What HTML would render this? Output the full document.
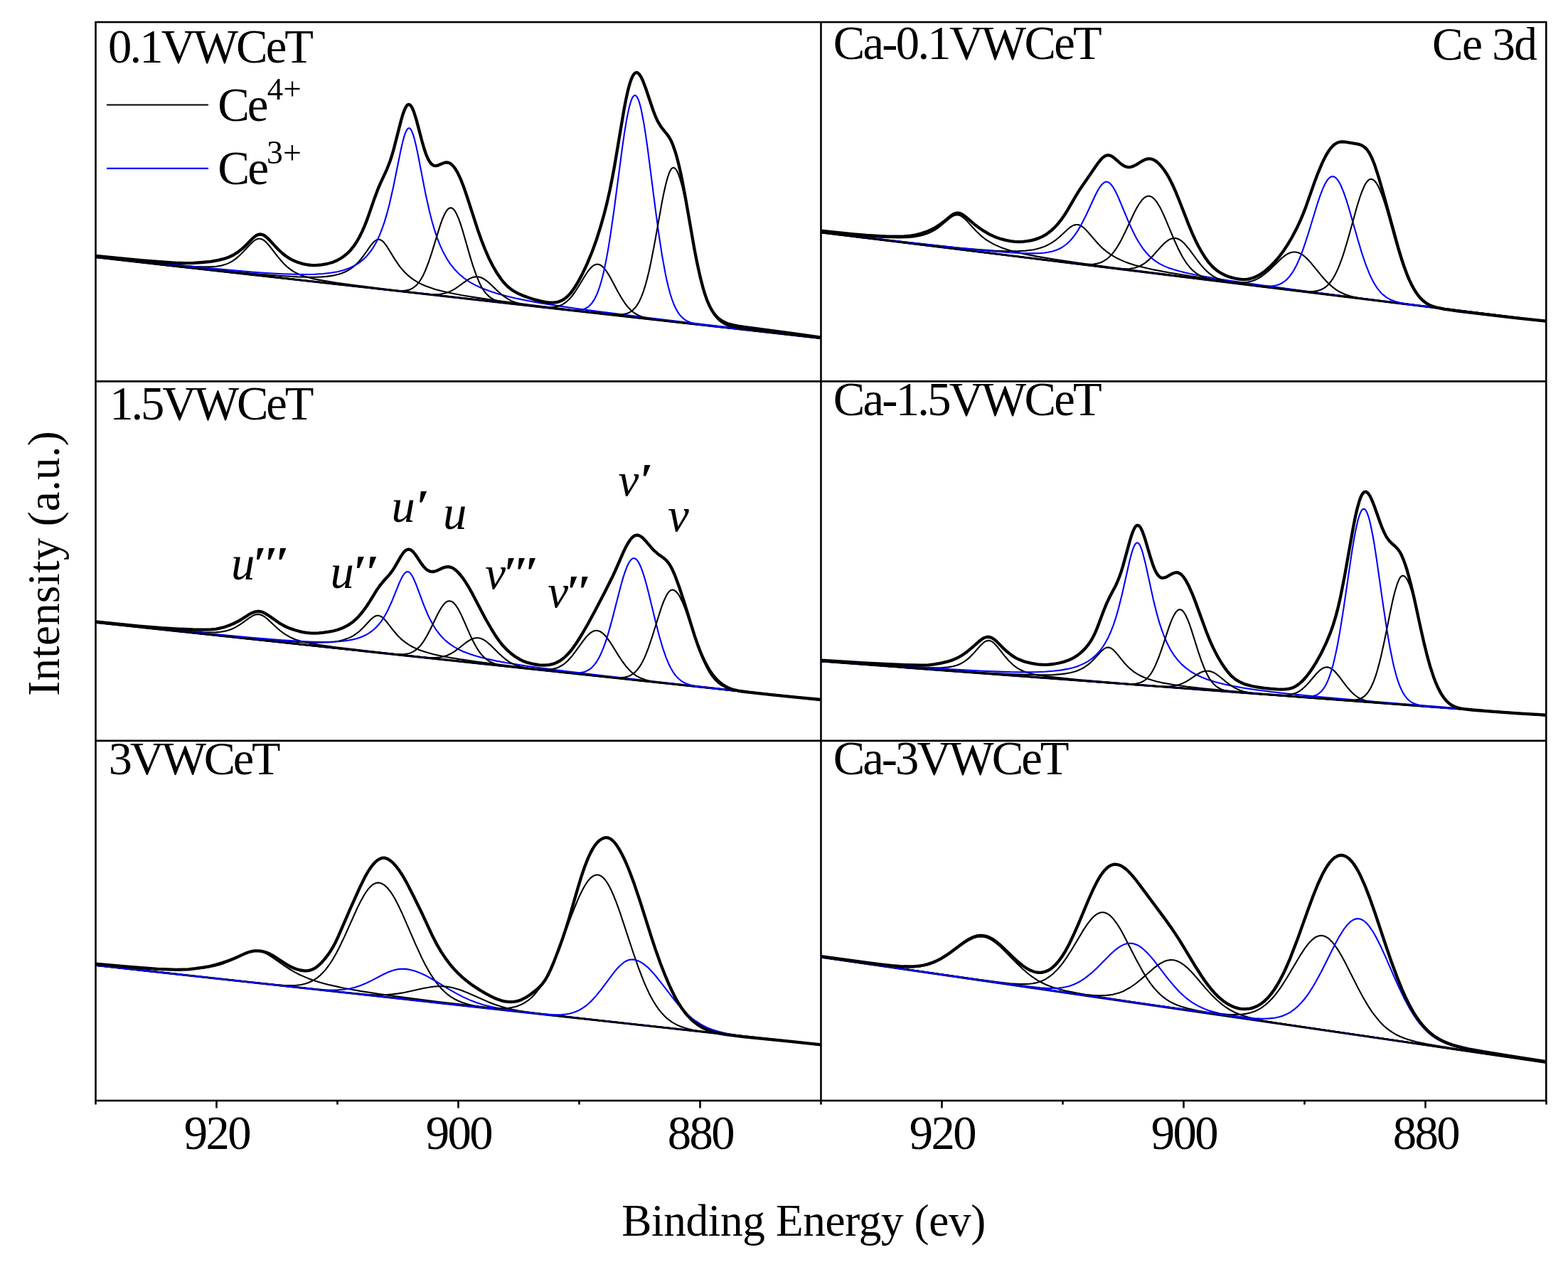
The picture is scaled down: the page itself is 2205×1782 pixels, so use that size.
<!DOCTYPE html>
<html><head><meta charset="utf-8"><title>Ce 3d XPS</title><style>
    html,body{margin:0;padding:0;background:#fff;}
    body{width:2205px;height:1782px;overflow:hidden;}
    svg{display:block;}
    .bl{fill:none;stroke:#000;stroke-width:3;}
    .ck{fill:none;stroke:#000;stroke-width:2.1;stroke-linejoin:round;}
    .cb{fill:none;stroke:#0000ff;stroke-width:2.1;stroke-linejoin:round;}
    .env{fill:none;stroke:#000;stroke-width:4.3;stroke-linejoin:round;stroke-linecap:round;}
    .frame{fill:none;stroke:#000;stroke-width:2.6;}
    .t{font-family:'Liberation Serif', 'Times New Roman', serif;font-size:66.6px;fill:#000;}
    </style></head><body>
<svg xmlns="http://www.w3.org/2000/svg" width="2205" height="1782" viewBox="0 0 2205 1782">
<defs>
    <clipPath id="c1"><rect x="134.5" y="31.1" width="1020.0" height="1516.9"/></clipPath>
    <clipPath id="c2"><rect x="1154.5" y="31.1" width="1019.8000000000002" height="1516.9"/></clipPath>
    </defs>
<g clip-path="url(#c1)">
<path class="bl" d="M134.5 361.8L1154.5 475.8"/>
<path class="ck" d="M134.5 361.4L209.5 369.2L256.5 373.5L273 374.7L286 375.2L296 375.2L304 374.7L310.5 373.7L316.5 372.1L322 369.9L327 367.1L332 363.6L337.5 358.8L342 354.3L351.5 344L356 339.7L358.5 337.9L361 336.5L363.5 335.8L365.5 335.8L367.5 336.2L370 337.3L372 338.7L374.5 341L379 346L390.5 360.9L396.5 368L400 371.7L403.5 375L407 377.9L410.5 380.4L414.5 382.9L418.5 385L423 386.9L427.5 388.5L432.5 390.1L438.5 391.6L452.5 394.4L473.5 397.7L501.5 401.5L539 406.2L590.5 412.3L762.5 431.8L1154.5 475.8"/>
<path class="ck" d="M134.5 361.4L282.5 377.4L330 382.3L366.5 385.7L395.5 388L418.5 389.4L437 389.8L445 389.7L452.5 389.4L459 388.9L465 388.1L470.5 387.1L475.5 385.9L480 384.5L484.5 382.7L488.5 380.8L492.5 378.4L496 375.9L499 373.4L502.5 370.1L505.5 366.9L511 360L521.5 345.2L525 341L527 339.1L529 337.8L531 337L533 336.8L534.5 337.1L536.5 338.1L538.5 339.6L540.5 341.8L544.5 347.2L555.5 365.1L562 374.6L565.5 378.9L569.5 383.3L573.5 387.1L577.5 390.4L582 393.7L587 396.7L592.5 399.6L598.5 402.2L605 404.6L612 406.9L620 409.1L629 411.2L649.5 415.3L675 419.4L708 424L751.5 429.6L808.5 436.4L886.5 445.4L1154.5 475.6"/>
<path class="cb" d="M134.5 360.8L232.5 371.1L304 378.1L357 382.7L378.5 384.2L397.5 385.2L414.5 385.8L429.5 386L442.5 385.7L454.5 385L465 383.8L474.5 382.2L483 380L491 377.2L498 373.9L504.5 370L510 365.7L515.5 360.4L520.5 354.4L525 347.8L529.5 339.9L533.5 331.4L537 322.7L540.5 312.6L544 300.9L547.5 287.7L553 263.5L563.5 211.7L565.5 202.8L567.5 194.9L569.5 188.4L571.5 183.7L572.5 182L573.5 180.9L574.5 180.3L575.5 180.2L577 181.2L578 182.5L579 184.3L581 189.4L583 196.3L585 204.5L587.5 216.3L598.5 272.9L604 297.6L607.5 311.3L611 323.3L615 335.2L619 345.4L623.5 355.1L628.5 364.1L634 372.3L639.5 379.1L645.5 385.3L652.5 391.1L660 396.3L668.5 401.1L677.5 405.3L688 409.3L699.5 413L712.5 416.5L727 419.9L743.5 423.2L762.5 426.6L784.5 430.1L809 433.7L837.5 437.6L910 446.8L1010.5 458.7L1154.5 475.2"/>
<path class="ck" d="M134.5 361.8L543 407.4L553.5 408.5L560.5 408.9L566 409L570.5 408.6L574 407.9L577.5 406.7L580.5 405.1L583.5 403L586.5 400.2L589 397.2L591.5 393.5L594 389.3L596 385.3L598.5 379.7L603 368L607.5 354.3L618 320.1L620.5 312.7L623 306.2L626 299.7L628.5 295.8L630 294.1L631.5 292.9L633 292.4L634 292.3L635 292.5L636.5 293.2L638 294.6L639.5 296.5L642 300.8L645 307.6L647.5 314.6L650.5 324L661 360.6L665.5 375.2L670.5 389.2L675 399.5L677.5 404.2L680 408.2L682.5 411.6L685.5 414.9L688.5 417.6L691.5 419.7L695 421.6L698.5 423L703.5 424.5L709 425.6L726.5 427.9L1154.5 475.8"/>
<path class="ck" d="M134.5 361.8L576.5 411.2L595 413.2L605.5 414L613 414.1L619 413.7L624.5 412.8L630 411.1L635 408.9L640 406.1L644.5 403L655 395.3L660.5 391.9L663.5 390.6L666.5 389.6L669.5 389.2L672 389.3L674.5 389.7L677.5 390.8L680.5 392.4L683.5 394.4L689 398.9L700 409.5L704.5 413.5L709.5 417.4L714 420.4L719 423.1L724.5 425.3L730.5 427.1L738 428.7L748.5 430.3L766.5 432.4L1154.5 475.8"/>
<path class="ck" d="M134.5 361.8L740.5 429.5L760 431.5L771 432.2L775 432.1L779 431.8L782.5 431.2L786 430.3L789 429.1L792 427.6L795 425.6L797.5 423.6L800 421.3L802.5 418.6L805 415.5L808 411.5L813 403.8L823.5 386.5L826.5 382L829 378.8L832 375.5L835 373.2L836.5 372.4L838 371.9L839.5 371.7L841 371.7L842.5 372L844 372.7L847 374.7L850 377.8L853 381.7L855.5 385.6L858.5 390.7L869 410.4L873.5 418.3L878 425.3L882.5 431.3L887 436.1L892 440.2L894.5 441.8L897.5 443.4L903.5 445.8L908.5 447.3L914 448.4L930 450.7L1154.5 475.8"/>
<path class="cb" d="M134.5 361.8L788.5 434.9L800.5 436L808.5 436.4L815 436.1L820 435.1L822.5 434.3L825 433L827 431.7L829 430L832.5 426.2L836 420.9L839 414.8L842 407.2L845 397.8L848 386.5L850.5 375.4L853 362.9L855.5 348.9L858.5 330.2L863.5 295.3L875 208.3L878 187.7L881 169.4L884 154.4L885.5 148.3L887 143.2L888.5 139.2L890 136.3L891.5 134.6L892.5 134.1L893 134.1L893.5 134.2L894.5 134.8L896 136.7L897.5 139.7L899 143.9L900.5 149.2L902 155.5L905.5 173.9L908 189.7L911 210.9L922 296.6L926.5 329.7L931 359.1L935.5 383.9L937.5 393.4L940 404L942.5 413.2L945 421L947.5 427.7L950 433.2L952.5 437.8L955.5 442.3L958 445.3L960.5 447.6L963 449.6L966 451.4L969.5 453L973 454.2L977 455.2L982 456.2L990 457.3L1002.5 458.8L1154.5 475.8"/>
<path class="ck" d="M134.5 361.8L629.5 417L795.5 435.4L837 439.7L858.5 441.7L869.5 442.3L874 442.2L877.5 441.8L882 440.7L886 439L889.5 436.6L893 433.1L896 429.1L899 423.9L902 417.4L905 409.3L907.5 401.4L910 392.3L912.5 382L915.5 368.2L920 345.1L931 283.9L933.5 271.4L936 260.2L939 249.1L941.5 242.1L943 239.2L944.5 237.1L946 236L947 235.8L948.5 236.3L950 237.5L951.5 239.6L953 242.5L954.5 246.1L956 250.4L959.5 263L962.5 276L965.5 290.6L976 346.4L980.5 369.1L985 389.4L989.5 406.8L994 421L996 426.3L998.5 432.2L1000.5 436.3L1003 440.7L1005.5 444.5L1008 447.6L1010.5 450.2L1013 452.4L1016 454.5L1019 456.2L1022.5 457.7L1026 458.9L1034.5 460.9L1045.5 462.7L1064.5 465.1L1154.5 475.6"/>
<path class="env" d="M134.5 360L170 363.5L201 366.3L228 368.5L248.5 369.8L259.5 370.1L272 369.8L284.5 369L296.5 367.8L306 366.2L314.5 364.2L321.5 361.8L328 358.7L334.5 354.6L340.5 349.9L345.5 345.3L354.5 336L358 332.9L360 331.5L362 330.4L364 329.8L366 329.5L368 329.8L370.5 330.6L372.5 331.8L375 333.7L379 337.6L387.5 346.9L392 351.5L396.5 355.7L401.5 359.7L406 362.8L410 365.1L414.5 367.3L419 369L426 371.1L433 372.5L439 373.2L444.5 373.2L452.5 372.4L461 370.8L467.5 369L473.5 366.6L479 363.5L484.5 359.7L489 355.9L493.5 351.2L497.5 346.2L501.5 340.2L505.5 333.2L509.5 325.1L513 317.1L516.5 308.1L527 277.9L531 267.2L535 257.7L544 238.3L548.5 226.7L551 219L553.5 210.5L563.5 171.4L566 162.5L568 156.6L570 151.8L571.5 149.3L572.5 148L573.5 147.3L575 146.9L576.5 147.5L577.5 148.4L578.5 149.8L580 152.5L582 157.4L585.5 168.4L593.5 198.8L597 210.8L599 216.6L601 221.5L602.5 224.6L604.5 227.9L606 229.9L608 231.7L610 232.8L612 233.2L613.5 233.1L615.5 232.7L622.5 229.7L625.5 228.7L628.5 228.5L630 228.7L631.5 229.1L633 229.8L634.5 230.8L637.5 233.7L640.5 237.7L643.5 242.9L648 252.4L652.5 264L657 277.2L671.5 322.2L677 337.7L682 350.5L687.5 363.1L693 374L699 384.3L705 393L708.5 397.3L712 401.1L715.5 404.3L719 407.1L723 409.7L727 412L731.5 414.1L737 416.4L745 419.2L753 421.7L760.5 423.6L767 424.9L773 425.6L778 425.7L782.5 425.2L786.5 424.1L790 422.6L793 420.9L796 418.6L799 415.9L802 412.6L805 408.8L808 404.5L811 399.7L814.5 393.6L818 387.1L825.5 371.3L832.5 354.5L838.5 338L844 320.7L849 303.2L853.5 285.6L857.5 267.9L861 250.5L864.5 231.5L877.5 154.2L880.5 138.6L883 127.4L885 119.8L886.5 114.9L888 110.8L889.5 107.4L891 104.9L892.5 103.2L894 102.2L895.5 102.1L896.5 102.4L897.5 103L899.5 105.1L901.5 108.3L904 113.5L908 124L918.5 155.3L921.5 163.1L924 168.7L926.5 173.4L929 177.4L931.5 180.8L938.5 189.5L942 194.8L944 198.6L946 203.2L949.5 213.2L952 221.7L954.5 231.5L957 242.4L959.5 254.5L964 278.7L976.5 350.4L980.5 370.8L984.5 388.9L989 406.2L991 412.8L993.5 420.1L995.5 425.2L998 430.7L1000.5 435.4L1003 439.4L1005.5 442.7L1008.5 446L1011.5 448.7L1014.5 450.8L1018 452.8L1021.5 454.4L1025.5 455.9L1030.5 457.2L1038 458.7L1048 460.2L1112 468.7L1154.5 474.7"/>
<path class="bl" d="M134.5 875.5L1154.5 984.4"/>
<path class="ck" d="M134.5 875.2L209.5 882.8L256 887.2L272.5 888.4L285.5 889.2L295.5 889.5L303.5 889.4L310 888.8L315.5 887.9L321 886.5L326 884.7L331 882.4L336 879.4L340.5 876.4L350.5 869.1L355 866.3L357.5 865.1L359.5 864.4L362 864.1L364 864.1L366 864.5L368 865.2L370 866.2L372.5 867.8L377 871.5L388.5 882.3L394.5 887.5L401 892.2L408 896.2L415.5 899.5L424.5 902.3L435.5 904.7L449.5 907.1L470 910L498 913.4L587 923.5L759 942.1L1154.5 984.4"/>
<path class="ck" d="M134.5 875.2L284 890.8L331.5 895.5L368 899L396.5 901.3L419.5 902.9L438 903.7L453 903.7L465 903.1L470.5 902.5L475.5 901.7L480 900.7L484.5 899.5L488.5 898.1L492.5 896.4L496 894.6L499 892.7L502.5 890.2L505.5 887.8L511 882.5L521 871.8L524.5 868.6L526.5 867.3L528.5 866.3L530.5 865.8L532 865.8L533.5 866.1L535.5 866.9L537.5 868.2L539.5 869.9L543.5 874.3L554 887.8L560 894.7L563.5 898.1L567 901.2L571 904.2L575 906.9L579.5 909.5L584.5 911.9L590 914.2L596 916.3L602.5 918.3L609.5 920.2L626 923.7L646 927.1L671.5 930.8L704.5 935L748 940.1L883.5 955.1L1154.5 984.3"/>
<path class="cb" d="M134.5 875L232 885.1L303 892.1L356 897.1L396.5 900.4L428.5 902.3L441.5 902.8L453.5 903L464 902.9L473.5 902.5L482 901.8L489.5 900.8L496.5 899.4L503 897.7L508.5 895.7L514 893.3L519 890.4L523.5 887.2L528 883.2L532 879L535.5 874.6L539 869.6L542.5 863.7L545.5 858L551.5 844.7L561.5 819.9L565.5 811.4L567.5 808.2L569.5 805.8L571.5 804.4L572.5 804.1L573.5 804.1L575 804.6L577 806.3L579 808.9L581 812.5L585 821.7L596 851.2L602 865.5L605.5 872.6L609 879L613 885.3L617 890.7L621.5 896L626.5 900.9L632 905.4L637.5 909.1L644 912.8L651 916.2L658.5 919.1L667 922L676 924.6L686.5 927.1L698 929.6L711 932L742.5 937L783.5 942.6L837 949.1L909.5 957.4L1154.5 984.1"/>
<path class="ck" d="M134.5 875.5L538.5 918.6L556.5 920.2L562 920.4L567 920.3L570.5 919.9L574 919.3L577 918.4L580 917.1L583 915.4L585.5 913.6L588.5 910.9L591 908.3L595.5 902.3L600.5 894.1L605 885.5L615.5 863.8L618.5 858.3L621 854.1L624 850.1L627 847.1L628.5 846.1L630 845.5L632.5 845.2L635 845.9L636.5 846.7L638 848L641 851.4L644 856L646.5 860.5L649.5 866.6L660.5 891.6L665 901.2L670 910.4L672.5 914.4L675 918L677.5 921.1L680 923.8L682.5 926.1L685.5 928.4L688.5 930.3L691.5 931.8L695 933.3L699 934.5L704 935.6L709.5 936.6L728 938.9L1154.5 984.4"/>
<path class="ck" d="M134.5 875.5L574 922.4L593 924.3L604 925.1L611.5 925.1L618 924.6L623.5 923.5L629 921.7L634 919.3L639 916.3L644 912.7L655 904L660.5 900.4L663.5 898.9L666.5 897.8L669.5 897.3L672.5 897.3L675.5 897.8L678.5 899L681.5 900.6L684.5 902.7L690.5 907.9L701.5 918.9L706 923.1L711 927.3L716 930.8L721.5 933.8L727 936.1L733 938L740.5 939.6L751.5 941.2L770 943.3L1154.5 984.4"/>
<path class="ck" d="M134.5 875.5L731 939.2L752 941.3L764 941.9L772.5 941.7L776.5 941.1L780 940.3L783.5 939.2L786.5 937.9L789.5 936.3L792.5 934.3L795.5 932L798 929.7L803.5 923.8L809 916.7L821 900.1L824 896.4L827 893.1L830.5 890L833.5 888.2L835.5 887.3L837 887L840 886.9L843 887.7L844.5 888.5L846.5 889.8L849.5 892.4L853 896.3L856 900.3L859 904.7L870 922.4L875 930L880 936.7L885 942.4L890 947L895 950.6L900.5 953.5L907 956L912.5 957.5L918.5 958.7L935.5 961L1154.5 984.4"/>
<path class="cb" d="M134.5 875.5L782.5 944.7L795 945.9L803.5 946.5L810 946.6L815.5 946.3L820.5 945.3L824.5 943.9L828.5 941.8L832 939.1L835.5 935.4L838.5 931.5L841.5 926.6L844.5 920.7L847.5 913.9L850 907.3L852.5 900.1L855.5 890.4L861 870.6L873 824L876 813.4L879 804.1L882.5 795.2L884 792.2L885.5 789.7L887.5 787.2L889 785.9L890.5 785.3L892 785.2L893.5 785.8L895 786.9L896.5 788.6L898.5 791.7L901.5 798.2L905 808.1L908 818.3L911 829.6L922 874.8L927 894.2L932 911.3L936.5 924.4L941 935.1L943.5 940L946 944.3L948.5 948L951 951.2L954 954.3L957 956.8L959.5 958.6L962 960L965 961.4L968 962.5L975 964.4L984.5 966L1006 968.5L1154.5 984.4"/>
<path class="ck" d="M134.5 875.5L842 951L862.5 952.9L868.5 953.2L873.5 953.1L878.5 952.6L882.5 951.6L886 950.2L889.5 948.2L892.5 945.9L895.5 942.8L898.5 939L901.5 934.4L904 929.8L906.5 924.6L909 918.7L912 910.8L917 896L928.5 859.2L931.5 850.5L934 844.2L937 837.8L938.5 835.2L940 833.1L941.5 831.5L943 830.3L944.5 829.7L946 829.6L947.5 830L949.5 831.1L951 832.4L953 834.7L954.5 836.8L956.5 840.3L960 847.6L963 855L966.5 864.6L978 899.3L983 913.6L988 926.5L992.5 936.4L997 944.8L1001.5 951.6L1004 954.7L1006.5 957.5L1009 959.8L1011.5 961.9L1014 963.6L1017 965.4L1023 968L1030 970L1038.5 971.6L1059 974.2L1154.5 984.4"/>
<path class="env" d="M134.5 874.4L195.5 880.6L227 883.2L251 884.6L271.5 885.5L285.5 885.7L296.5 885.4L303 884.8L309 883.7L315.5 882L322.5 879.5L328.5 877L334 874.3L339 871.3L349.5 864.7L354 862.2L356.5 861.2L359 860.4L361.5 860L363.5 859.9L366 860.1L368.5 860.8L371 861.8L373.5 863.1L378.5 866.3L392 875.8L396.5 878.5L400.5 880.7L405 882.7L409.5 884.4L415 886.2L420.5 887.8L426 889.1L431 889.9L436 890.4L441.5 890.6L448 890.4L455 889.7L462 888.7L468.5 887.5L474 886L479 884.3L483.5 882.4L488 880.1L492.5 877.3L496.5 874.4L500.5 870.9L504 867.4L509.5 861L515 853.5L520 845.8L529.5 830.4L534 823.9L538.5 818.3L547 808.9L551.5 803.1L555.5 796.9L563.5 782.9L566.5 778.4L569 775.4L571 773.8L573 772.8L575 772.6L576.5 773L578 773.7L579.5 774.7L581.5 776.7L585 781.2L592 791.9L595.5 796.6L597.5 798.8L599.5 800.7L601 801.8L603 802.9L605 803.6L607 804L609 804L611 803.7L614.5 802.6L621.5 799.3L624.5 798.1L627.5 797.3L630.5 797.1L634 797.8L637 799.1L640 801.2L643.5 804.3L647 808.2L651 813.3L654.5 818.4L658.5 824.8L664.5 835.4L676.5 858.6L683 870.7L690.5 883.8L697 894.3L702 901.5L707 907.8L712.5 913.6L718.5 919L724.5 923.5L730.5 927.2L736.5 930.1L742.5 932.2L750 934L758.5 935.3L765.5 935.6L772 935.1L777.5 933.9L782.5 932L787 929.7L791.5 926.5L796 922.5L800.5 917.8L805 912.3L810 905.3L817.5 893.5L826.5 878L836 860.5L850.5 832.8L861 811.8L865.5 802L876.5 776.8L879.5 770.6L882.5 765L886 759.5L888 757L889.5 755.5L891.5 754L893 753.2L894.5 752.8L896.5 752.7L898.5 753.2L900.5 754.1L902.5 755.5L904.5 757.2L908 760.9L917 771.4L920.5 775L925 778.9L933.5 785L937 788.2L940.5 792.4L943.5 797.2L946 802.2L949 809.1L955 825.2L962 846.5L977 894.9L981.5 907.9L985.5 918.2L988.5 925L991.5 931.3L995 937.8L998 942.9L1001 947.3L1004 951.2L1007.5 955.2L1011 958.6L1014 961.1L1017.5 963.7L1020.5 965.5L1024 967.3L1027.5 968.7L1031.5 970L1040.5 972L1053 973.7L1084.5 977.2L1119 980.7L1154.5 984"/>
<path class="bl" d="M134.5 1357.6L1154.5 1469.5"/>
<path class="ck" d="M134.5 1355.7L185.5 1360.1L206 1361.6L224 1362.6L239.5 1363.2L253.5 1363.4L266 1363.2L277 1362.5L285.5 1361.7L293.5 1360.5L301 1359L308 1357.2L315 1354.9L322.5 1351.9L329 1349L342.5 1342.4L349 1339.6L353 1338.4L356.5 1337.7L360 1337.4L363 1337.6L366 1338.1L369.5 1339.1L372.5 1340.3L376 1342.1L382.5 1346.1L400 1358.4L409.5 1364.5L415 1367.6L421 1370.7L427 1373.4L433 1375.9L440 1378.5L447.5 1380.9L455.5 1383.2L464 1385.4L483.5 1389.7L506.5 1393.9L535 1398.3L570 1403.1L614.5 1408.7L671.5 1415.4L841 1434.7L1154.5 1469.3"/>
<path class="ck" d="M134.5 1357.6L352.5 1381.5L386 1384.9L400.5 1386L412 1386.1L417 1385.8L421.5 1385.3L425.5 1384.6L429.5 1383.6L434 1382L438.5 1380L442.5 1377.7L446.5 1374.9L450.5 1371.6L454 1368.1L458 1363.6L461.5 1359L465 1354L469 1347.5L473 1340.5L477 1332.8L484.5 1317.1L502.5 1277L507.5 1267L512 1259L515 1254.3L517.5 1250.9L520.5 1247.5L523 1245.2L525.5 1243.4L528 1242.2L530.5 1241.6L533 1241.6L535.5 1242.2L538 1243.3L540.5 1244.9L543.5 1247.5L546 1250.2L549 1254L552 1258.5L555 1263.5L560 1273L565.5 1284.6L584.5 1328.4L593 1346.9L597.5 1355.9L602 1364.1L606.5 1371.7L610.5 1377.7L615 1383.8L619.5 1389.2L624 1393.8L628.5 1397.8L633.5 1401.6L638.5 1404.7L644 1407.5L650 1410L659 1412.8L669.5 1415.2L682.5 1417.3L700 1419.5L1154.5 1469.5"/>
<path class="cb" d="M134.5 1357.6L422 1389.1L448.5 1391.6L458 1392.2L466 1392.5L475 1392.3L483.5 1391.7L491.5 1390.5L499 1388.7L506.5 1386.2L514.5 1383L522 1379.4L540 1370L545.5 1367.5L550 1365.7L555.5 1364L560.5 1363.1L565.5 1362.7L570.5 1362.9L576.5 1363.9L583 1365.6L589.5 1367.9L596.5 1371L602 1373.9L608.5 1377.5L631 1391.2L641 1396.9L651 1402.1L660.5 1406.4L670.5 1410.3L680.5 1413.4L691 1416.1L703 1418.5L713.5 1420.3L725.5 1422L759.5 1426.1L1154.5 1469.5"/>
<path class="ck" d="M134.5 1357.6L469.5 1394.3L498 1397.2L516.5 1398.7L526.5 1399.2L535.5 1399.3L544 1399L552 1398.4L560 1397.4L568.5 1396L595.5 1390L605.5 1388.2L611 1387.5L616.5 1387.2L622 1387.2L627 1387.6L632 1388.3L637.5 1389.4L643 1390.9L648.5 1392.8L659 1397L686 1408.9L694.5 1412.2L702.5 1414.9L711 1417.4L719.5 1419.5L729 1421.5L739.5 1423.2L758.5 1425.9L787.5 1429.2L1154.5 1469.5"/>
<path class="ck" d="M134.5 1357.6L667 1415.9L686 1417.7L699.5 1418.4L710.5 1418.2L715 1417.8L719.5 1417.1L725.5 1415.7L731.5 1413.6L737 1410.8L742.5 1407.2L747.5 1403L752 1398.4L757 1392.2L761.5 1385.7L766 1378.3L770.5 1369.9L775 1360.7L779.5 1350.5L788 1329.4L802.5 1290.7L808 1276.5L813.5 1263.3L818.5 1252.7L821.5 1247.2L824.5 1242.3L827.5 1238.2L830 1235.4L833 1232.9L835.5 1231.4L838.5 1230.5L841 1230.5L843.5 1231.2L846 1232.6L848.5 1234.7L851 1237.5L853.5 1241L856.5 1246.1L859 1250.9L862 1257.5L866.5 1268.6L872 1283.8L890.5 1340L898 1361.5L905.5 1380.9L909 1388.9L912.5 1396.4L915.5 1402.2L919 1408.5L922.5 1414.1L926 1419.1L929.5 1423.6L933.5 1428L937 1431.4L941 1434.7L945 1437.6L949 1439.9L953.5 1442.2L958 1444L963 1445.7L968.5 1447.2L975 1448.7L982 1449.9L995 1451.8L1013.5 1454L1154.5 1469.5"/>
<path class="cb" d="M134.5 1357.6L738 1423.8L767 1426.6L776 1427.1L784 1427.3L790 1427.1L795.5 1426.5L800.5 1425.7L805 1424.5L809.5 1423L814 1421L818.5 1418.4L822.5 1415.7L826 1413L830 1409.4L834 1405.3L838 1400.9L845.5 1391.6L862.5 1368.8L867 1363.3L871.5 1358.5L876.5 1354.2L879 1352.5L881.5 1351.2L884 1350.3L886 1349.8L888.5 1349.5L890.5 1349.6L893 1350L895.5 1350.7L898 1351.7L900.5 1352.9L905.5 1356.1L911 1360.6L916.5 1366.2L922 1372.5L928.5 1380.6L948.5 1406.6L955.5 1415L962 1422L969.5 1429.1L973.5 1432.5L977.5 1435.5L985.5 1440.7L993.5 1444.9L1002 1448.3L1011 1451.1L1021.5 1453.5L1034 1455.7L1046.5 1457.4L1064 1459.5L1154.5 1469.5"/>
<path class="env" d="M134.5 1355.7L182.5 1360L221.5 1362.8L235.5 1363.4L248 1363.8L257 1363.7L265 1363.3L275 1362.2L286 1360.6L295 1359L303.5 1356.9L313 1354.1L322.5 1350.8L330 1347.7L343.5 1341.6L349.5 1339.3L353 1338.3L356 1337.7L359 1337.4L362.5 1337.3L366.5 1337.7L371 1338.6L375 1339.8L379 1341.5L383 1343.6L387 1346L400 1354.5L405 1357.6L410.5 1360.5L416 1362.8L422 1364.5L428 1365.3L431 1365.3L433.5 1365.1L436 1364.6L438.5 1363.8L442 1362.2L445.5 1359.9L449 1356.9L453 1352.9L457 1348.3L461 1343.2L464.5 1338.1L468 1332.4L472 1324.9L476 1316.4L491.5 1280.5L506.5 1247.1L513 1233.9L516 1228.5L519 1223.5L522 1219.2L524.5 1216L527.5 1212.7L530 1210.5L532.5 1208.8L535.5 1207.3L538 1206.7L540.5 1206.7L543 1207.2L546 1208.5L548.5 1210.1L551.5 1212.6L554.5 1215.6L558 1219.7L561.5 1224.4L565 1229.7L568.5 1235.5L572 1241.8L581 1259.3L594 1285.8L608 1316.1L614.5 1328.7L620.5 1338.9L626.5 1347.9L633 1356.5L639.5 1364.1L644.5 1369.2L650 1374.3L656 1379.4L662 1384L668 1388.1L675 1392.6L683.5 1397.6L690.5 1401.4L695.5 1403.8L700.5 1405.8L705 1407.3L709.5 1408.3L714 1408.9L718.5 1409.2L723 1408.9L727 1408.1L730 1407.3L733 1406.2L739 1403.2L745.5 1399L753 1393.3L758.5 1388.4L762.5 1384.1L766 1379.3L769.5 1373.5L774 1364.4L779 1352.6L785 1337L791.5 1318.9L796 1305.4L800 1292.6L812.5 1249.4L817.5 1232.9L822.5 1218.2L827 1206.9L830.5 1199.4L833.5 1193.9L836.5 1189.2L840 1184.9L843.5 1181.7L847 1179.5L850.5 1178.2L853.5 1178.1L856 1178.6L859 1180.2L862 1182.6L865 1185.9L868 1190L871.5 1195.7L874.5 1201.2L878 1208.3L881.5 1216.2L885 1224.7L892 1243.6L900.5 1268.9L915.5 1316.3L921.5 1334.6L929 1355.7L936.5 1374.7L941 1385.2L945 1393.8L949.5 1402.7L953.5 1409.8L958 1416.9L962.5 1423.1L967 1428.6L971.5 1433.3L975.5 1436.9L980 1440.4L984.5 1443.4L989.5 1446.2L994.5 1448.5L1000 1450.5L1005.5 1452.2L1011.5 1453.5L1023.5 1455.4L1045 1458.1L1112.5 1464.9L1154.5 1469.3"/>
</g><g clip-path="url(#c2)">
<path class="bl" d="M1154.5 326.9L2174.3 452"/>
<path class="ck" d="M1154.5 325.7L1204.5 330.9L1223.5 332.5L1239.5 333.6L1253 334.3L1265 334.4L1275.5 334.1L1284.5 333.4L1291.5 332.3L1298 330.8L1304 328.8L1309.5 326.4L1315 323.4L1320 319.9L1324.5 316.3L1334 308.1L1338 305.1L1340.5 303.7L1342.5 302.9L1345 302.4L1347 302.4L1349 302.8L1351 303.6L1353 304.8L1355 306.3L1360 311.1L1372.5 324.8L1378.5 330.6L1382.5 334L1387 337.3L1391.5 340.2L1396 342.7L1401.5 345.4L1407.5 347.9L1414 350.2L1421 352.4L1429 354.5L1437.5 356.6L1458 360.6L1483 364.8L1515 369.5L1557 375.2L1613.5 382.6L1794 405.1L2174.3 451.9"/>
<path class="ck" d="M1154.5 326.4L1276.5 340.8L1317.5 345.4L1350 348.7L1376.5 351.1L1398 352.6L1415.5 353.3L1430.5 353.3L1442.5 352.6L1453 351.2L1457.5 350.3L1462 349.1L1466.5 347.6L1470.5 346L1477.5 342.4L1481 340.2L1484.5 337.7L1490.5 332.7L1501.5 322.5L1506 318.9L1508.5 317.4L1511 316.4L1513.5 316L1515.5 316L1517.5 316.4L1520 317.5L1522 318.8L1524.5 320.8L1529.5 325.9L1542.5 341L1548.5 347.2L1552.5 350.9L1556.5 354.1L1561 357.4L1565.5 360.2L1571 363.3L1576.5 365.9L1582.5 368.4L1589 370.7L1596 372.9L1604 375.1L1622.5 379.4L1644.5 383.5L1672.5 388L1708.5 393.2L1755 399.5L1897.5 417.6L2174.3 451.9"/>
<path class="cb" d="M1154.5 326.4L1241 336.7L1305 344.1L1353.5 349.3L1390.5 352.9L1420.5 355.3L1443.5 356.4L1453 356.4L1461 356.2L1468 355.7L1474 354.8L1479 353.8L1484 352.3L1488.5 350.5L1493 348.2L1497 345.5L1500.5 342.7L1504.5 338.9L1508 335L1511.5 330.4L1514.5 326.1L1518 320.4L1521.5 314.1L1527.5 302.2L1540 275.2L1543 269.3L1545.5 265L1548.5 260.7L1551 258L1552.5 256.9L1554 256.1L1555.5 255.8L1556.5 255.8L1557.5 256L1559 256.6L1560.5 257.6L1562 259L1564.5 262.1L1567.5 267L1570 271.9L1573 278.4L1586 309.6L1593 325.1L1597 332.9L1600.5 339.2L1604 344.8L1608 350.5L1612 355.5L1616.5 360.3L1621 364.3L1625.5 367.7L1631 371.1L1636.5 373.9L1642.5 376.4L1649.5 378.8L1658 381.2L1668 383.7L1679.5 386.2L1693 388.7L1726 394.2L1770 400.6L1826.5 408.2L1904.5 418.2L2174.3 451.8"/>
<path class="ck" d="M1154.5 326.9L1504 369.7L1516.5 371.1L1525 371.7L1532 371.9L1538 371.5L1542 370.8L1545.5 369.9L1549 368.7L1552.5 366.9L1556 364.7L1559 362.2L1562 359.3L1565 355.9L1567.5 352.7L1570.5 348.3L1573.5 343.4L1576.5 338L1582 327L1595 299.3L1598.5 292.6L1601.5 287.5L1605.5 281.8L1607.5 279.7L1609 278.3L1611 276.9L1612.5 276.3L1614.5 275.8L1616 275.8L1617.5 276.1L1619.5 276.9L1621 277.9L1623 279.7L1626.5 283.9L1630.5 290.3L1634 297.1L1637.5 304.7L1650.5 335.7L1656 347.9L1662 359.7L1665 364.8L1668 369.4L1671 373.4L1674.5 377.5L1677.5 380.5L1681 383.4L1684.5 385.9L1688.5 388.1L1692.5 389.9L1697 391.5L1703 393.2L1710 394.6L1719 396L1732 397.7L2174.3 452"/>
<path class="ck" d="M1154.5 326.9L1550 375.4L1569.5 377.6L1581 378.2L1588.5 378L1595 377L1598 376.1L1601 375.1L1606.5 372.3L1611.5 368.9L1617 364.1L1622 358.9L1634 345.5L1637 342.5L1640 339.9L1643.5 337.4L1646.5 335.9L1650 335L1653 335L1656 335.7L1659.5 337.5L1662.5 339.7L1666 343.1L1672 350.2L1684 366.5L1689 372.9L1694.5 379.1L1699.5 383.7L1705 387.8L1711 391.2L1717.5 393.8L1725.5 396L1737.5 398.2L1757 400.8L2174.3 452"/>
<path class="ck" d="M1154.5 326.9L1700.5 393.9L1724 396.6L1737.5 397.6L1746.5 397.6L1750.5 397.3L1754.5 396.7L1758 396L1761.5 395L1765 393.7L1768.5 392.1L1774.5 388.5L1781 383.5L1787 378.1L1800.5 364.9L1804 361.8L1807.5 359.1L1811.5 356.7L1815 355.2L1818.5 354.5L1822 354.5L1825.5 355.2L1829.5 357.1L1833 359.4L1837 362.8L1840.5 366.4L1844 370.3L1857.5 386.9L1863 393.2L1868.5 398.9L1874 403.8L1879.5 407.8L1885.5 411.3L1892 414.2L1899 416.5L1905 418L1912 419.3L1932 422.2L2174.3 452"/>
<path class="cb" d="M1154.5 326.9L1752 400.2L1766 401.7L1775.5 402.5L1783 402.7L1789 402.4L1794 401.5L1798.5 400.2L1802.5 398.3L1806.5 395.7L1810 392.6L1813.5 388.7L1817 384L1820.5 378.2L1823.5 372.5L1826.5 365.9L1829.5 358.6L1833 349.2L1839 331L1853 285.3L1856.5 275L1860 265.9L1862 261.4L1864 257.5L1866 254.2L1867.5 252.2L1869.5 250.1L1871 249L1873 248.3L1874.5 248.2L1876 248.6L1878 249.7L1880 251.7L1882 254.4L1883.5 256.8L1885.5 260.7L1889.5 270.3L1893 280.3L1896.5 291.6L1909.5 337.3L1915 355.6L1920.5 371.9L1926 385.7L1928.5 391.1L1931.5 396.9L1934 401.1L1937 405.6L1940 409.4L1943 412.7L1946 415.4L1949.5 418.1L1952.5 419.9L1955.5 421.5L1962 424L1970 426.1L1981 428.1L2005.5 431.3L2174.3 452"/>
<path class="ck" d="M1154.5 326.9L1812.5 407.6L1826 409.1L1835 409.9L1842 410.2L1847.5 409.9L1852.5 409.1L1857 407.7L1861 405.8L1864.5 403.4L1868 400.2L1871.5 396L1875 390.8L1878 385.4L1881 379.1L1884 371.9L1887 363.8L1890 354.8L1895.5 336.5L1908.5 289.8L1912 278.5L1915 270L1918.5 261.8L1920.5 258.1L1922 255.9L1924 253.7L1925.5 252.6L1927 252L1928.5 251.9L1930 252.3L1932 253.5L1933.5 255L1935.5 257.5L1937.5 260.8L1939.5 264.8L1943.5 274.6L1947 284.9L1950.5 296.3L1963.5 342.9L1968.5 359.8L1974 376.5L1979 389.6L1984 400.4L1986.5 405L1989 409.1L1991.5 412.7L1994.5 416.5L1997.5 419.7L2000.5 422.4L2003.5 424.6L2006.5 426.5L2009.5 428.1L2013 429.6L2020.5 431.9L2030.5 434L2053.5 437.2L2174.3 452"/>
<path class="env" d="M1154.5 324.7L1200 329.4L1218.5 331L1234.5 332L1248.5 332.6L1261 332.7L1271.5 332.4L1280.5 331.6L1288 330.3L1295.5 328.4L1302.5 326.1L1309 323.3L1315.5 319.8L1322.5 315.3L1327.5 311.6L1336.5 304.1L1339.5 302L1341.5 300.9L1343.5 300.1L1345.5 299.6L1347 299.6L1349 299.8L1351 300.5L1353 301.4L1355 302.7L1358.5 305.4L1367 312.7L1372 316.8L1378 321.2L1384 325.2L1388.5 327.9L1393 330.3L1397.5 332.4L1402 334.2L1408 336.2L1414.5 337.9L1421 339.1L1427 339.8L1433 340.1L1438.5 339.9L1444.5 339.2L1450.5 338.1L1456 336.6L1461 334.9L1465.5 332.9L1470 330.4L1474.5 327.3L1478.5 324.1L1483 319.9L1487 315.6L1492 309.4L1497 302.3L1501.5 295.1L1511.5 277.8L1517 268.8L1541 233.7L1544.5 228.8L1547.5 225.1L1550 222.4L1552.5 220.4L1555 219L1557 218.4L1559.5 218.4L1562 219.1L1564 220.1L1566.5 221.9L1575 229.4L1579 232.4L1581 233.5L1583 234.3L1585 234.9L1587 235.1L1590.5 234.8L1594.5 233.4L1598 231.6L1606.5 226.3L1610.5 224.4L1614 223.4L1617.5 223.3L1620.5 224L1623.5 225.4L1626.5 227.4L1630 230.6L1633.5 234.5L1637 239L1640.5 244.2L1643.5 249.3L1648.5 259L1653.5 270.2L1658.5 282.5L1672 317.1L1676.5 327.8L1680.5 336.7L1685 345.8L1690 354.7L1695 362.6L1700 369.4L1705.5 375.5L1711 380.2L1717 384.2L1723.5 387.5L1727.5 389L1732 390.4L1736.5 391.5L1741.5 392.4L1745.5 392.9L1749 393.1L1752.5 392.9L1755.5 392.6L1761.5 391L1765 389.7L1768 388.3L1774 384.8L1780 380.4L1786.5 374.6L1792.5 368.5L1799 360.8L1805 352.7L1811 343.6L1817 333.5L1823 322.1L1828.5 310.4L1832.5 300.9L1836 291.9L1848.5 256.4L1853.5 243.1L1859.5 228.9L1862.5 222.7L1865 218L1868.5 212.3L1871.5 208.2L1874.5 205L1877.5 202.5L1880.5 200.8L1884 199.7L1887.5 199.3L1891.5 199.6L1909.5 202.7L1913 203.6L1916 205L1919.5 207.5L1922.5 210.6L1925.5 215L1928 219.7L1930.5 225.3L1933.5 233.1L1939 250.1L1945 271.1L1966 347.5L1971 364.2L1975.5 377.6L1978.5 385.6L1981.5 392.8L1984.5 399.2L1988 405.8L1991 410.8L1994.5 415.7L1997.5 419.3L2001 422.8L2003.5 424.8L2006.5 426.9L2009.5 428.6L2013 430.2L2017 431.6L2021 432.7L2031.5 434.8L2051 437.6L2095 442.9L2133.5 447.3L2174.3 451.6"/>
<path class="bl" d="M1154.5 930L2174.3 1006.2"/>
<path class="ck" d="M1154.5 929.7L1235.5 935.3L1284.5 938.2L1301.5 938.9L1315 939.2L1325.5 939L1333.5 938.4L1340 937.3L1345.5 935.8L1350.5 933.7L1355.5 930.9L1360 927.6L1365 923.1L1369.5 918.4L1378.5 908.2L1382.5 904.4L1384.5 902.8L1386.5 901.7L1388.5 901.1L1390.5 900.9L1392.5 901.2L1394.5 902.1L1396.5 903.5L1398.5 905.2L1402.5 909.6L1413 922.9L1418.5 929.2L1424.5 935L1427.5 937.4L1431 939.8L1434.5 941.8L1438 943.5L1442 945.1L1446.5 946.5L1456.5 948.9L1470.5 951.1L1490.5 953.4L1517 956L1553 959.1L1603.5 963.2L1773.5 976.1L2174.3 1006.2"/>
<path class="ck" d="M1154.5 929.8L1309 941L1395 946.7L1424.5 948.2L1447.5 949.1L1466 949.4L1481 949.1L1493 948.1L1498.5 947.4L1503.5 946.5L1508 945.5L1512.5 944.2L1516.5 942.7L1520 941.1L1523.5 939.3L1526.5 937.4L1530 934.9L1533 932.4L1538.5 927L1548 916.6L1551.5 913.4L1553.5 912L1555.5 911.1L1557.5 910.6L1559 910.6L1560.5 910.9L1562.5 911.8L1564 912.8L1566 914.4L1570 918.7L1580.5 931.7L1585.5 937.1L1589 940.4L1592.5 943.3L1596 945.9L1600 948.4L1604.5 950.8L1609.5 953L1615 955.1L1620.5 956.8L1626.5 958.5L1633.5 960.1L1650 963L1669.5 965.7L1694.5 968.5L1727 971.5L1770 975.2L1904 985.7L2174.3 1006.1"/>
<path class="cb" d="M1154.5 929.2L1255.5 936.2L1328.5 940.9L1382.5 943.8L1404.5 944.6L1423.5 945.2L1441 945.4L1456 945.2L1469 944.7L1481 943.8L1491.5 942.6L1501 940.9L1509.5 938.9L1517 936.4L1524 933.4L1530.5 929.8L1536 925.9L1541.5 921L1546.5 915.6L1551 909.5L1555 903.1L1559 895.4L1562.5 887.5L1566 878.3L1569.5 867.6L1572.5 857.3L1578 835.5L1588 791L1590 782.9L1592 775.9L1594 770.2L1596 766L1597 764.7L1598 763.8L1599 763.4L1599.5 763.4L1601 764.2L1602 765.3L1603 766.9L1605 771.5L1607 777.7L1611 793.5L1622 843.9L1627 863.9L1630.5 876.1L1634 886.7L1637.5 896L1641.5 905.1L1646 913.7L1650.5 920.9L1656 928.2L1661.5 934.1L1667.5 939.4L1674.5 944.5L1682 948.8L1690.5 952.8L1699.5 956.2L1709.5 959.3L1721 962.3L1733.5 964.9L1748 967.5L1764.5 970L1783.5 972.5L1805 975L1857.5 980.2L1929.5 986.5L2029.5 994.5L2174.3 1005.7"/>
<path class="ck" d="M1154.5 930L1570.5 961.1L1587.5 962L1593 961.9L1597.5 961.5L1601 960.8L1604.5 959.7L1607.5 958.3L1610.5 956.3L1613 954.1L1615.5 951.4L1618 948.1L1620.5 944.2L1622.5 940.6L1625 935.4L1629.5 924.5L1634 911.8L1643.5 883.1L1646 876.2L1648.5 870.1L1651.5 864.1L1654 860.4L1655.5 858.9L1657 857.8L1658.5 857.3L1659.5 857.3L1660.5 857.5L1662 858.3L1663 859.1L1664.5 860.8L1667 864.7L1670 871L1672.5 877.4L1675 884.6L1685 916.3L1689.5 929.5L1694 941L1698.5 950.4L1701 954.6L1703.5 958.2L1706 961.3L1708.5 963.8L1711.5 966.2L1714.5 968L1718 969.7L1721.5 970.8L1726 971.9L1731.5 972.8L1748.5 974.4L2174.3 1006.2"/>
<path class="ck" d="M1154.5 930L1608 963.9L1625.5 965.1L1635.5 965.6L1642.5 965.5L1648.5 965.1L1654 964.1L1659 962.7L1663.5 960.9L1668 958.6L1672.5 955.8L1683 948.8L1688 946L1691 944.8L1693.5 944.1L1696.5 943.7L1699 943.7L1701.5 944.1L1704.5 945L1707 946.2L1710 947.9L1715 951.5L1725 959.7L1729.5 963.1L1734 966.1L1738.5 968.6L1743.5 970.8L1748.5 972.4L1754.5 973.8L1761 974.9L1771 976L1788 977.3L2174.3 1006.2"/>
<path class="ck" d="M1154.5 930L1774 976.3L1792 977.5L1802 977.9L1809.5 977.7L1816 976.8L1821.5 975.1L1824.5 973.7L1827 972.3L1831.5 969.1L1836.5 964.4L1841 959.5L1851 947.7L1856 942.8L1859 940.5L1861.5 939.3L1864 938.5L1866.5 938.4L1869 938.9L1872 940.3L1874.5 942.1L1877.5 944.8L1882.5 950.7L1892 963.3L1896 968.3L1900.5 973.3L1904.5 977L1909 980.3L1913.5 982.8L1918.5 984.9L1924 986.4L1933.5 987.9L1948.5 989.3L2174.3 1006.2"/>
<path class="cb" d="M1154.5 930L1816.5 979.4L1828.5 980.2L1836 980.3L1842 980L1847 979L1851 977.6L1853 976.5L1855 975.1L1858.5 971.9L1862 967.4L1865 962.2L1868 955.6L1871 947.4L1874 937.4L1876.5 927.6L1879 916.3L1881.5 903.8L1884.5 886.9L1889.5 855.4L1901 776.9L1904 758.7L1906.5 745.3L1909.5 732.1L1911 726.8L1912.5 722.5L1914 719.2L1915.5 716.9L1917 715.8L1918 715.7L1919.5 716.5L1921 718.3L1922.5 721.3L1924 725.3L1925.5 730.3L1927 736.2L1930 750.7L1932.5 764.9L1935.5 784.1L1945.5 854.1L1950 883.9L1954.5 910.3L1959 932.4L1961 940.8L1963.5 950.1L1965.5 956.6L1968 963.6L1970.5 969.5L1973 974.4L1975.5 978.4L1978.5 982.2L1980.5 984.2L1983 986.3L1985.5 988L1988.5 989.5L1991.5 990.6L1995 991.6L1999 992.4L2004 993.2L2024 995L2174.3 1006.2"/>
<path class="ck" d="M1154.5 930L1877 984L1896 985.1L1901.5 985L1906 984.6L1910.5 983.6L1914.5 982L1918 979.7L1921 977L1924 973.3L1926.5 969.4L1929.5 963.5L1932 957.6L1934.5 950.6L1937 942.5L1939.5 933.4L1942 923.3L1946.5 902.9L1957 851.4L1959.5 840.3L1962 830.5L1965 820.8L1967.5 814.8L1969 812.3L1970.5 810.6L1972 809.8L1973 809.7L1974.5 810.2L1976 811.3L1977.5 813.1L1979.5 816.4L1982.5 823.3L1986 833.9L1989 844.8L1992 856.9L2002.5 903.1L2007 921.8L2011.5 938.7L2016 953L2020 963.7L2022 968.2L2024.5 973.2L2026.5 976.7L2029 980.5L2031.5 983.8L2034 986.4L2036.5 988.7L2039 990.5L2041.5 992L2044.5 993.4L2047.5 994.6L2051 995.6L2059 997.1L2067 998L2078.5 999L2174.3 1006.2"/>
<path class="env" d="M1154.5 928.7L1218.5 932.7L1244.5 934L1267 935L1285.5 935.5L1297.5 935.6L1305.5 935.3L1313.5 934.4L1323.5 932.7L1332 930.7L1340 928.1L1347 925L1353 921.6L1359.5 916.9L1366 911.6L1376.5 902.3L1380.5 899.2L1383 897.7L1385 896.7L1387.5 896L1389.5 895.8L1391.5 896L1393.5 896.6L1395.5 897.6L1398 899.2L1402 902.7L1410.5 911.2L1415 915.5L1420 919.6L1424.5 922.9L1428.5 925.3L1433 927.6L1438 929.6L1443 931.2L1450.5 932.9L1459 934.3L1466 934.8L1473 934.8L1481.5 934L1489.5 932.5L1497 930.6L1504 928L1509 925.6L1514 922.5L1518.5 919.1L1523 915.1L1527 910.9L1531 905.9L1534.5 900.7L1537.5 895.3L1540 890.1L1543 883L1552 859L1556 849.1L1560 840.6L1569 823.5L1571.5 817.9L1574 811.7L1576.5 804.6L1579 796.6L1589 760.2L1591 753.6L1593 748L1595 743.5L1596.5 741L1597.5 739.9L1598.5 739.1L1600 738.8L1601.5 739.4L1603 740.8L1604.5 743.1L1606.5 747.4L1610 757.3L1618 784.5L1621.5 795.1L1623.5 800.1L1625.5 804.4L1627 807L1629 809.6L1630.5 811.1L1632.5 812.3L1634.5 812.8L1636.5 812.7L1638.5 812.2L1640.5 811.4L1647.5 807.4L1650 806.2L1653 805.3L1655.5 805.2L1657 805.6L1658.5 806.2L1661 807.9L1664 811.1L1667 815.4L1671.5 823.6L1676.5 834.8L1681 846.4L1696.5 888.7L1701.5 901.1L1706 911.1L1712 922.9L1718 933L1724 941.7L1727 945.5L1730 948.9L1733 951.9L1736 954.4L1739.5 956.9L1743 958.9L1747 960.8L1751 962.4L1755.5 963.7L1760.5 965L1768 966.4L1776.5 967.7L1786 968.7L1795.5 969.4L1802 969.6L1807.5 969.4L1812 968.8L1816 967.9L1819.5 966.5L1822.5 964.9L1825.5 962.9L1829 960.1L1832.5 956.7L1836 952.8L1839.5 948.5L1843 943.7L1846.5 938.5L1850.5 932.1L1858 918.7L1865 904.1L1871 889.6L1875 878.2L1878.5 866.6L1882 853.1L1885 839.9L1891 809.3L1903 741.6L1906 726.5L1908.5 715.6L1911.5 704.9L1913 700.6L1914.5 697.2L1916 694.6L1917.5 692.8L1919 691.9L1920.5 691.7L1921.5 691.9L1922.5 692.5L1924.5 694.6L1926.5 697.6L1928.5 701.6L1932.5 711.5L1940 732.8L1943 740.8L1946 747.9L1949 753.9L1951.5 757.8L1954 761.1L1956.5 763.6L1963.5 769.9L1967 774.1L1969 777.2L1970.5 779.9L1974 788.1L1976.5 795.1L1979 803L1984 821.5L1989 842.8L1998.5 886.6L2002.5 904.2L2007 922.4L2011 936.8L2016 952.2L2018.5 958.8L2021 964.7L2023.5 969.9L2026.5 975.4L2029 979.3L2032 983.4L2034.5 986.2L2037.5 989L2040 990.9L2043 992.7L2046 994.1L2049.5 995.3L2053.5 996.3L2058 997.1L2070.5 998.5L2096.5 1000.6L2135 1003.3L2174.3 1005.7"/>
<path class="bl" d="M1154.5 1346.2L2174.3 1494.4"/>
<path class="ck" d="M1154.5 1345.7L1221.5 1354.9L1240.5 1357.4L1254.5 1358.9L1266 1359.9L1276 1360.3L1284.5 1360.2L1292.5 1359.6L1300 1358.3L1307 1356.4L1314 1353.9L1321 1350.6L1327 1347.1L1333 1343.2L1351.5 1329.7L1357 1325.9L1361.5 1323.1L1366 1320.7L1370.5 1318.9L1375 1317.8L1379 1317.4L1383 1317.7L1387.5 1318.8L1392 1320.7L1396.5 1323.4L1401.5 1327.1L1406 1331L1410.5 1335.2L1429 1354.1L1437.5 1362.3L1446.5 1370L1451 1373.4L1455.5 1376.5L1460 1379.3L1465 1382L1470 1384.5L1475.5 1386.8L1481 1388.8L1487 1390.6L1500 1393.9L1515 1396.9L1536.5 1400.6L1626 1414.3L1800 1439.8L2174.3 1494.4"/>
<path class="ck" d="M1154.5 1346L1322 1370.1L1373 1377.2L1403 1381.2L1420.5 1383.2L1433 1384.1L1443 1384.1L1447.5 1383.8L1452 1383.3L1456.5 1382.4L1461 1381.2L1465.5 1379.5L1469.5 1377.6L1473.5 1375.2L1477 1372.7L1481 1369.5L1484.5 1366.1L1488 1362.4L1492 1357.7L1495.5 1353.1L1499.5 1347.4L1507 1335.7L1524 1307.4L1528.5 1300.6L1533 1294.7L1535.5 1291.8L1538 1289.2L1540.5 1287.1L1543 1285.4L1545.5 1284.2L1547.5 1283.5L1550 1283.2L1552 1283.3L1554 1283.7L1556.5 1284.7L1558.5 1285.8L1561 1287.7L1563.5 1290.1L1566 1292.9L1571 1299.6L1575.5 1306.8L1580 1314.9L1598 1349.9L1606 1364.6L1610 1371.4L1614 1377.6L1618 1383.3L1622 1388.5L1626 1393.1L1630.5 1397.7L1635 1401.7L1639.5 1405.1L1644.5 1408.3L1649.5 1411L1655 1413.5L1660.5 1415.6L1671 1418.6L1684.5 1421.6L1702.5 1424.7L1732.5 1429.5L1870 1449.9L2174.3 1494.3"/>
<path class="cb" d="M1154.5 1346.1L1340.5 1372.9L1430.5 1385.6L1449.5 1387.9L1463 1389.3L1474.5 1390L1484 1389.9L1489 1389.6L1493.5 1389.1L1498 1388.3L1502.5 1387.2L1507 1385.8L1511 1384.2L1515 1382.3L1519 1380.2L1523 1377.7L1527 1374.9L1535 1368.4L1543 1360.9L1562 1341.7L1567 1337.2L1571.5 1333.6L1577 1330.1L1582 1327.9L1584.5 1327.2L1587 1326.8L1589.5 1326.7L1592 1326.9L1594.5 1327.4L1597 1328.2L1599.5 1329.3L1602 1330.6L1607 1334.2L1612.5 1339.3L1617 1344.1L1622.5 1350.6L1641.5 1375.3L1650 1385.7L1658.5 1395L1663 1399.3L1667 1402.8L1671.5 1406.4L1676 1409.6L1680.5 1412.4L1685 1414.9L1690 1417.3L1695 1419.4L1700.5 1421.4L1706 1423.1L1716.5 1425.8L1729.5 1428.4L1746.5 1431.4L1772.5 1435.4L1900.5 1454.4L2174.3 1494.3"/>
<path class="ck" d="M1154.5 1346.1L1381 1378.9L1489 1394.3L1510.5 1397.2L1525 1398.9L1536.5 1399.9L1546 1400.3L1556 1399.9L1560.5 1399.4L1565 1398.7L1569.5 1397.6L1573.5 1396.4L1577.5 1395L1581.5 1393.2L1589 1389L1597 1383.5L1604.5 1377.4L1622 1362.2L1627 1358.3L1631.5 1355.2L1636.5 1352.6L1641.5 1350.8L1646 1350.1L1650.5 1350.3L1655 1351.5L1659.5 1353.6L1664.5 1356.9L1669.5 1361.1L1674 1365.4L1678.5 1370.3L1696 1390.6L1703.5 1398.9L1711.5 1406.8L1719.5 1413.5L1723.5 1416.4L1727.5 1419L1731.5 1421.3L1736 1423.7L1745 1427.5L1755.5 1430.8L1765 1433.2L1777 1435.6L1792.5 1438.2L1815.5 1441.8L1930.5 1458.8L2174.3 1494.3"/>
<path class="ck" d="M1154.5 1346.1L1502 1396.4L1658 1418.6L1693 1423.3L1714 1425.8L1729 1427L1735.5 1427.1L1741 1427L1747.5 1426.6L1753.5 1425.6L1759 1424.3L1764 1422.6L1769 1420.3L1774 1417.4L1779 1413.7L1783.5 1409.8L1788 1405.3L1792.5 1400.2L1797 1394.4L1801.5 1388.1L1810 1374.8L1829 1342.8L1834.5 1334.4L1839 1328.4L1842 1324.9L1844.5 1322.4L1847.5 1319.9L1850 1318.2L1852.5 1317L1855 1316.2L1857.5 1315.9L1860 1316L1862.5 1316.7L1865 1317.8L1867.5 1319.4L1870 1321.4L1872.5 1323.9L1875.5 1327.4L1881 1335.1L1885.5 1342.5L1891 1352.5L1909 1388.1L1916.5 1402.2L1924.5 1415.7L1928.5 1421.8L1932 1426.7L1939 1435.4L1942.5 1439.2L1946 1442.7L1949.5 1445.8L1953.5 1448.9L1957.5 1451.7L1961.5 1454.1L1965.5 1456.2L1970 1458.3L1975 1460.3L1980 1462L1991.5 1465.2L2006 1468.2L2025 1471.5L2055 1476.2L2174.3 1494.1"/>
<path class="cb" d="M1154.5 1346.1L1529 1400.3L1627.5 1414.4L1696 1424L1733.5 1428.9L1756 1431.5L1764.5 1432.2L1772 1432.6L1779 1432.7L1785 1432.4L1792 1431.7L1798 1430.5L1804 1428.7L1809.5 1426.3L1815 1423.3L1820 1419.7L1825 1415.4L1830 1410.3L1834.5 1405L1839.5 1398.3L1844 1391.5L1849 1383.2L1858 1366.7L1878.5 1326L1884 1316.1L1889 1308.2L1892 1304L1895 1300.4L1898 1297.4L1900.5 1295.3L1903.5 1293.5L1906 1292.6L1908.5 1292.1L1911 1292.2L1913 1292.6L1915.5 1293.7L1918 1295.2L1920.5 1297.2L1923 1299.8L1925.5 1302.8L1930.5 1310L1935.5 1318.8L1941.5 1330.8L1947.5 1343.9L1961 1374.9L1967.5 1389.4L1974.5 1403.9L1981 1416.1L1985 1423L1988.5 1428.5L1992.5 1434.3L1996.5 1439.6L2000.5 1444.3L2004.5 1448.6L2008.5 1452.4L2013 1456.1L2017 1459L2021.5 1461.8L2026 1464.3L2031 1466.6L2036.5 1468.8L2042 1470.7L2048 1472.5L2055 1474.2L2069.5 1477.2L2090 1480.8L2174.3 1493.8"/>
<path class="env" d="M1154.5 1345.2L1220.5 1354.2L1240 1356.6L1254 1358.1L1266 1359.1L1276 1359.5L1284.5 1359.3L1292.5 1358.6L1299 1357.5L1305.5 1355.9L1311.5 1353.8L1317.5 1351.2L1324 1347.8L1331 1343.4L1338 1338.5L1354 1326.5L1359 1323.1L1363 1320.7L1368 1318.3L1372.5 1316.7L1377 1315.9L1381.5 1315.8L1386 1316.5L1390.5 1318.1L1395 1320.4L1400 1323.8L1404.5 1327.4L1409 1331.4L1425.5 1347.3L1432 1353.2L1439 1358.8L1445 1362.7L1448.5 1364.6L1451.5 1365.8L1454.5 1366.8L1457.5 1367.5L1460.5 1367.9L1463.5 1367.9L1466.5 1367.5L1469.5 1366.7L1473.5 1365.1L1477 1363.1L1480.5 1360.4L1484 1357.2L1487.5 1353.3L1491 1348.8L1494.5 1343.7L1498 1338L1504 1326.9L1510.5 1313.2L1517 1298.3L1530.5 1266L1537 1251.4L1542.5 1240.4L1545.5 1235.1L1548 1231.1L1551 1226.9L1553.5 1223.9L1556.5 1220.9L1559 1218.9L1561.5 1217.4L1564.5 1216.2L1567.5 1215.7L1570.5 1215.8L1573.5 1216.5L1577 1218L1580.5 1220.2L1584 1223L1587.5 1226.3L1591.5 1230.6L1595.5 1235.3L1600.5 1241.7L1638 1292.1L1647 1304.7L1653 1313.6L1659 1322.9L1680.5 1358.4L1689.5 1372.5L1694.5 1379.8L1699 1385.9L1703.5 1391.5L1708 1396.7L1714 1402.7L1720 1407.7L1726 1411.8L1732.5 1415.2L1738.5 1417.4L1742 1418.3L1745 1418.8L1748.5 1419.2L1751.5 1419.2L1757.5 1418.6L1763 1417.1L1768 1415L1773 1412L1777.5 1408.6L1782.5 1403.8L1787 1398.6L1791.5 1392.5L1796 1385.5L1800.5 1377.6L1805 1368.8L1809.5 1359L1814.5 1347.3L1824 1322.6L1840 1277.9L1846.5 1260.3L1853.5 1243L1859.5 1230.1L1863.5 1222.7L1867 1217.1L1870.5 1212.4L1874 1208.6L1877.5 1205.8L1881 1203.9L1884.5 1202.9L1888 1203L1891 1203.8L1894 1205.4L1897 1207.6L1900.5 1211.2L1903.5 1214.9L1907 1220.2L1910 1225.4L1913.5 1232.3L1919.5 1245.8L1926.5 1263.9L1934 1285.3L1949.5 1331.9L1956.5 1352.3L1964.5 1374.1L1971.5 1391.3L1976 1401.4L1980 1409.7L1984 1417.3L1988 1424.3L1992 1430.6L1996.5 1436.9L2001 1442.5L2005.5 1447.4L2010 1451.7L2014.5 1455.4L2019.5 1458.9L2024.5 1461.9L2030 1464.7L2036 1467.3L2042.5 1469.6L2049.5 1471.6L2056.5 1473.4L2065 1475.3L2086 1479.2L2121 1484.9L2174.3 1493.2"/>
</g>
<g class="frame">
<rect x="134.5" y="31.1" width="2039.8000000000002" height="1516.9"/>
<path d="M1154.5 31.1V1548.0 M134.5 536.4H2174.3 M134.5 1041.9H2174.3"/>
<path d="M1154.5 1548V1553.5M984.5 1548V1558.5M814.5 1548V1553.5M644.5 1548V1558.5M474.5 1548V1553.5M304.5 1548V1558.5M134.5 1548V1553.5M2174.5 1548V1553.5M2004.5 1548V1558.5M1834.5 1548V1553.5M1664.5 1548V1558.5M1494.5 1548V1553.5M1324.5 1548V1558.5M1154.5 1548V1553.5"/>
</g>
<g class="t"><text x="152" y="87.8" font-size="66.7" textLength="289.1" lengthAdjust="spacing">0.1VWCeT</text>
<text x="1171.7" y="83" textLength="378.1" lengthAdjust="spacing">Ca-0.1VWCeT</text>
<text x="2014" y="84" font-size="65.3" textLength="148" lengthAdjust="spacing">Ce 3d</text>
<text x="154.3" y="589.9" textLength="287.1" lengthAdjust="spacing">1.5VWCeT</text>
<text x="1171.7" y="584.1" font-size="66.7" textLength="378.1" lengthAdjust="spacing">Ca-1.5VWCeT</text>
<text x="152.8" y="1088.8" font-size="66.3" textLength="241.7" lengthAdjust="spacing">3VWCeT</text>
<text x="1171.7" y="1089.1" font-size="66.7" textLength="331.9" lengthAdjust="spacing">Ca-3VWCeT</text>
<text x="1130.3" y="1738" font-size="63.3" text-anchor="middle" textLength="512.1" lengthAdjust="spacing">Binding Energy (ev)</text>
<text x="82.8" y="792.5" font-size="62.9" text-anchor="middle" textLength="372.3" lengthAdjust="spacing" transform="rotate(-90 82.8 792.5)">Intensity (a.u.)</text>
<text x="306.3" y="169.9" font-size="66.9" textLength="71.2" lengthAdjust="spacing">Ce</text>
<text x="375.8" y="139.8" font-size="44.7" textLength="47.9" lengthAdjust="spacing">4+</text>
<text x="306.3" y="258.5" font-size="67.3" textLength="71.7" lengthAdjust="spacing">Ce</text>
<text x="375.1" y="230.4" font-size="45.9" textLength="48.9" lengthAdjust="spacing">3+</text>
<text x="325" y="814.5" font-size="66.7" font-style="italic" textLength="80.8" lengthAdjust="spacing">u<tspan font-weight="bold">&#8242;&#8242;&#8242;</tspan></text>
<text x="464.4" y="827" font-size="66.7" font-style="italic" textLength="68.2" lengthAdjust="spacing">u<tspan font-weight="bold">&#8242;&#8242;</tspan></text>
<text x="550.4" y="734" font-size="66.5" font-style="italic" textLength="53" lengthAdjust="spacing">u<tspan font-weight="bold">&#8242;</tspan></text>
<text x="623.1" y="743.6" font-size="66.7" font-style="italic">u</text>
<text x="682.2" y="827.9" font-size="65.1" font-style="italic" textLength="74.2" lengthAdjust="spacing">v<tspan font-weight="bold">&#8242;&#8242;&#8242;</tspan></text>
<text x="770.2" y="853.6" font-size="65.2" font-style="italic" textLength="60" lengthAdjust="spacing">v<tspan font-weight="bold">&#8242;&#8242;</tspan></text>
<text x="869.6" y="696.7" font-size="65.2" font-style="italic" textLength="48.2" lengthAdjust="spacing">v<tspan font-weight="bold">&#8242;</tspan></text>
<text x="939.2" y="747.1" font-size="66.7" font-style="italic">v</text>
<text x="306.2" y="1615.8" font-size="66.7" text-anchor="middle" textLength="94.9" lengthAdjust="spacing">920</text>
<text x="646.2" y="1615.8" font-size="66.7" text-anchor="middle" textLength="94.9" lengthAdjust="spacing">900</text>
<text x="986.2" y="1615.8" font-size="66.7" text-anchor="middle" textLength="94.9" lengthAdjust="spacing">880</text>
<text x="1326.2" y="1615.8" font-size="66.7" text-anchor="middle" textLength="94.9" lengthAdjust="spacing">920</text>
<text x="1666.2" y="1615.8" font-size="66.7" text-anchor="middle" textLength="94.9" lengthAdjust="spacing">900</text>
<text x="2006.2" y="1615.8" font-size="66.7" text-anchor="middle" textLength="94.9" lengthAdjust="spacing">880</text></g>
<path d="M150 147.5H293" stroke="#000" stroke-width="2.2"/>
<path d="M150 236.9H293" stroke="#0000ff" stroke-width="2.2"/>
</svg>
</body></html>
